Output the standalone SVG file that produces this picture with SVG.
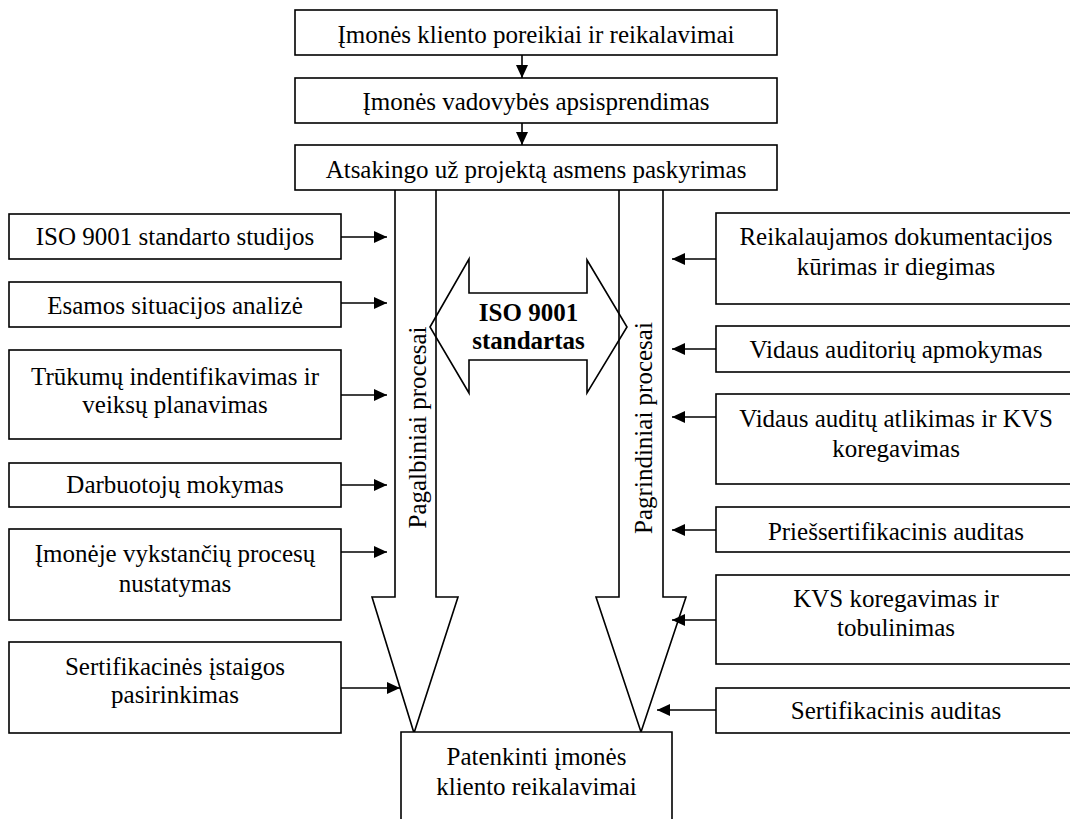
<svg xmlns="http://www.w3.org/2000/svg" width="1070" height="819" viewBox="0 0 1070 819">
<style>
.box{fill:#fff;stroke:#000;stroke-width:1.6}
.open{fill:none;stroke:#000;stroke-width:1.6}
.t{font-size:25px;fill:#000;text-anchor:middle}
.b{font-weight:bold}
.c{fill:none;stroke:#000;stroke-width:1.6}
</style>
<defs>
<marker id="ah" markerUnits="userSpaceOnUse" markerWidth="14" markerHeight="12" refX="13" refY="6" orient="auto">
<path d="M0,0 L13,6 L0,12 Z" fill="#000"/>
</marker>
</defs>
<rect width="1070" height="819" fill="#fff"/>
<g font-family="Liberation Serif, DejaVu Serif, serif">

<g id="big-arrows">
<polyline class="open" points="395,190 395,597 372,597 414,733 458,597 436,597 436,190"/>
<polyline class="open" points="619,190 619,597 596,597 641,732 686,597 663,597 663,190"/>
<text class="t" transform="translate(426,427.5) rotate(-90)">Pagalbiniai procesai</text>
<text class="t" transform="translate(652,428) rotate(-90)">Pagrindiniai procesai</text>
</g>

<g id="iso-standard">
<polygon class="open" points="430,327 469,259 469,293 587,293 587,260 627,327 587,393 587,360 469,360 469,393"/>
<text class="t b" x="528.5" y="321">ISO 9001</text>
<text class="t b" x="528.5" y="349">standartas</text>
</g>

<g id="n-top1">
<rect class="box" x="295" y="10" width="482" height="45"/>
<text class="t" x="536" y="43">Įmonės kliento poreikiai ir reikalavimai</text>
</g>
<g id="n-top2">
<rect class="box" x="295" y="78" width="482" height="45"/>
<text class="t" x="536" y="110">Įmonės vadovybės apsisprendimas</text>
</g>
<g id="n-top3">
<rect class="box" x="295" y="145" width="482" height="45"/>
<text class="t" x="536" y="178">Atsakingo už projektą asmens paskyrimas</text>
</g>

<g id="n-l1">
<rect class="box" x="9" y="214" width="332" height="45"/>
<text class="t" x="175" y="245">ISO 9001 standarto studijos</text>
</g>
<g id="n-l2">
<rect class="box" x="9" y="282" width="332" height="45"/>
<text class="t" x="175" y="314">Esamos situacijos analizė</text>
</g>
<g id="n-l3">
<rect class="box" x="9" y="350" width="332" height="89"/>
<text class="t" x="175" y="385">Trūkumų indentifikavimas ir</text>
<text class="t" x="175" y="413">veiksų planavimas</text>
</g>
<g id="n-l4">
<rect class="box" x="9" y="463" width="332" height="44"/>
<text class="t" x="175" y="493">Darbuotojų mokymas</text>
</g>
<g id="n-l5">
<rect class="box" x="9" y="529" width="332" height="91"/>
<text class="t" x="175" y="562">Įmonėje vykstančių procesų</text>
<text class="t" x="175" y="592">nustatymas</text>
</g>
<g id="n-l6">
<rect class="box" x="9" y="642" width="332" height="91"/>
<text class="t" x="175" y="675">Sertifikacinės įstaigos</text>
<text class="t" x="175" y="703">pasirinkimas</text>
</g>

<g id="n-r1">
<rect class="box" x="716" y="213" width="370" height="91"/>
<text class="t" x="896" y="245">Reikalaujamos dokumentacijos</text>
<text class="t" x="896" y="275">kūrimas ir diegimas</text>
</g>
<g id="n-r2">
<rect class="box" x="716" y="326" width="370" height="46"/>
<text class="t" x="896" y="358">Vidaus auditorių apmokymas</text>
</g>
<g id="n-r3">
<rect class="box" x="716" y="394" width="370" height="90"/>
<text class="t" x="896" y="427">Vidaus auditų atlikimas ir KVS</text>
<text class="t" x="896" y="457">koregavimas</text>
</g>
<g id="n-r4">
<rect class="box" x="716" y="507" width="370" height="45"/>
<text class="t" x="896" y="540">Priešsertifikacinis auditas</text>
</g>
<g id="n-r5">
<rect class="box" x="716" y="575" width="370" height="89"/>
<text class="t" x="896" y="607">KVS koregavimas ir</text>
<text class="t" x="896" y="636">tobulinimas</text>
</g>
<g id="n-r6">
<rect class="box" x="716" y="688" width="370" height="45"/>
<text class="t" x="896" y="719">Sertifikacinis auditas</text>
</g>

<g id="n-bottom">
<path class="box" d="M401,830 V732 H672 V830"/>
<text class="t" x="536.5" y="765">Patenkinti įmonės</text>
<text class="t" x="536.5" y="795">kliento reikalavimai</text>
</g>
</g>

<g id="connectors">
<line class="c" x1="522" y1="55" x2="522" y2="78" marker-end="url(#ah)"/>
<line class="c" x1="522" y1="123" x2="522" y2="145" marker-end="url(#ah)"/>
<line class="c" x1="341" y1="237" x2="387" y2="237" marker-end="url(#ah)"/>
<line class="c" x1="341" y1="303" x2="387" y2="303" marker-end="url(#ah)"/>
<line class="c" x1="341" y1="395" x2="387" y2="395" marker-end="url(#ah)"/>
<line class="c" x1="341" y1="485" x2="387" y2="485" marker-end="url(#ah)"/>
<line class="c" x1="341" y1="552" x2="387" y2="552" marker-end="url(#ah)"/>
<line class="c" x1="341" y1="688" x2="400" y2="688" marker-end="url(#ah)"/>
<line class="c" x1="716" y1="259" x2="672" y2="259" marker-end="url(#ah)"/>
<line class="c" x1="716" y1="349" x2="672" y2="349" marker-end="url(#ah)"/>
<line class="c" x1="716" y1="417" x2="672" y2="417" marker-end="url(#ah)"/>
<line class="c" x1="716" y1="530" x2="672" y2="530" marker-end="url(#ah)"/>
<line class="c" x1="716" y1="620" x2="672" y2="620" marker-end="url(#ah)"/>
<line class="c" x1="716" y1="710" x2="657" y2="710" marker-end="url(#ah)"/>
</g>
</svg>
